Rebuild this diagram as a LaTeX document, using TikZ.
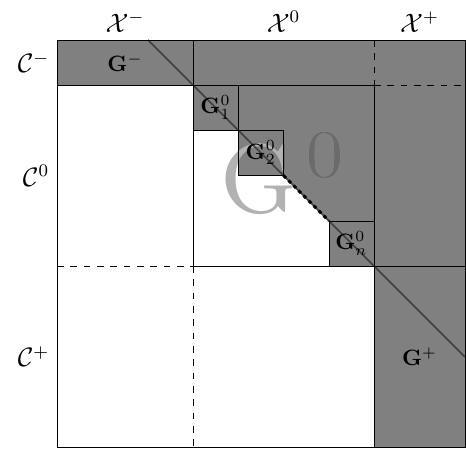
\documentclass[tikz,border=0pt]{standalone}
\usepackage{graphicx}
\usepackage{amsmath}
\newcommand{\blk}[1]{\mathbf{G}^{#1}}
\newcommand{\bigG}{\scalebox{4.4}{$\mathrm{G}^{\kern0.8pt 0}$}}

\begin{document}
\begin{tikzpicture}[
    x=0.45pt, y=-0.45pt,
    blockfill/.style={fill=black!50},
    diag/.style={draw=black!75, line width=0.7pt},
    dotsline/.style={draw=black, line width=1.4pt, dash pattern=on 1.6pt off 1.6pt},
    rowlabel/.style={font=\large, anchor=east},
    collabel/.style={font=\large, anchor=south},
    biglabel/.style={inner sep=0pt}
]
    \useasboundingbox (0,0) rectangle (466,449);

    % corners along the diagonal
    \coordinate (d0) at (193,85);
    \coordinate (d1) at (238,130);
    \coordinate (d2) at (283.5,175.5);
    \coordinate (d3) at (329,221);
    \coordinate (d4) at (374,266);

    % shaded blocks
    \fill[blockfill] (57,40) rectangle (465,85);
    \fill[blockfill] (374,85) rectangle (465,447);
    \fill[blockfill] (d0) rectangle (d1);
    \fill[blockfill] (d1) rectangle (d2);
    \fill[blockfill] (d3) rectangle (d4);
    \fill[blockfill] (d1 |- d0) -- (d4 |- d0) -- (d4 |- d3) -- (d3) -- (d2) -- (d2 |- d1) -- (d1) -- cycle;

    % big label, darker where it lies on the shaded staircase
    \node[biglabel, text=black!30] (gzero) at (285,173) {\bigG};
    \begin{scope}
        \clip (d1 |- d0) -- (d4 |- d0) -- (d4 |- d3) -- (d3) -- (d2) -- (d2 |- d1) -- (d1) -- cycle;
        \node[biglabel, text=black!58] (gzerodark) at (285,173) {\bigG};
    \end{scope}

    % diagonal
    \draw[diag] (148,40) -- (465,357);
    \draw[dotsline] (d2) -- (d3);

    % partition lines
    \draw (57,40) rectangle (465,447);
    \draw (193,40) -- (d4 -| d0);
    \draw[dashed] (d4 -| d0) -- (193,447);
    \draw (57,85) -- (d4 |- d0);
    \draw[dashed] (d4 |- d0) -- (465,85);
    \draw[dashed] (374,40) -- (d4 |- d0);
    \draw (d4 |- d0) -- (374,447);
    \draw[dashed] (57,266) -- (d4 -| d0);
    \draw (d4 -| d0) -- (465,266);
    \draw (d0) rectangle (d1);
    \draw (d1) rectangle (d2);
    \draw (d3) rectangle (d4);

    % block labels
    \node (gminus) at (125,62.5)      {$\blk{-}$};
    \node (gone)   at (215.5,107.5)   {$\blk{0}_1$};
    \node (gtwo)   at (260.75,152.75) {$\blk{0}_2$};
    \node (gn)     at (351.5,243.5)   {$\blk{0}_n$};
    \node (gplus)  at (419.5,356.5)   {$\blk{+}$};

    % row and column labels
    \node[collabel] (xminus) at (125,40)   {$\mathcal{X}^-$};
    \node[collabel] (xzero)  at (283.5,40) {$\mathcal{X}^0$};
    \node[collabel] (xplus)  at (419.5,40) {$\mathcal{X}^+$};
    \node[rowlabel] (cminus) at (57,62.5)  {$\mathcal{C}^-$};
    \node[rowlabel] (czero)  at (57,175.5) {$\mathcal{C}^0$};
    \node[rowlabel] (cplus)  at (57,356.5) {$\mathcal{C}^+$};
\end{tikzpicture}
\end{document}
